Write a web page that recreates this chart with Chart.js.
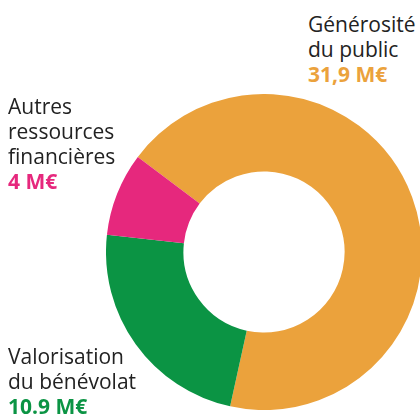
<!DOCTYPE html>
<html>
<head>
<meta charset="utf-8">
<script src="https://cdn.jsdelivr.net/npm/chart.js@4"></script>
<style>
  html, body { margin: 0; padding: 0; width: 420px; height: 419px; overflow: hidden; background: #fff; }
  #wrap { position: absolute; left: 106px; top: 94px; width: 316px; height: 316px; }
  .lbl { position: absolute; font-family: "Open Sans", sans-serif; font-size: 21px; line-height: 25px; color: #222; white-space: nowrap; }
  .lbl b { font-weight: bold; }
</style>
</head>
<body>
<div id="wrap"><canvas id="myChart"></canvas></div>
<div class="lbl" id="lbl0" style="left:308px; top:12px;"></div>
<div class="lbl" id="lbl1" style="left:8px; top:344px;"></div>
<div class="lbl" id="lbl2" style="left:8px; top:94px;"></div>
<script>
const categories = ['Générosité\ndu public', 'Valorisation\ndu bénévolat', 'Autres\nressources\nfinancières'];
const values = [31.9, 10.9, 4];
const valueLabels = ['31,9 M€', '10.9 M€', '4 M€'];
const colors = ['#EBA23C', '#0B9444', '#E6287D'];

// étiquettes en texte HTML
categories.forEach(function(cat, i) {
  const el = document.getElementById('lbl' + i);
  el.innerHTML = cat.split('\n').join('<br>') +
    '<br><b style="color:' + colors[i] + '">' + valueLabels[i] + '</b>';
});

const ctx = document.getElementById('myChart');
new Chart(ctx, {
  type: 'doughnut',
  data: {
    labels: categories.map(c => c.replace(/\n/g, ' ')),
    datasets: [{
      data: values,
      backgroundColor: colors,
      borderWidth: 0
    }]
  },
  options: {
    responsive: true,
    maintainAspectRatio: false,
    animation: false,
    rotation: -53,
    cutout: '51%',
    layout: { padding: 0 },
    plugins: {
      legend: { display: false },
      tooltip: { enabled: false }
    }
  }
});
</script>
</body>
</html>
